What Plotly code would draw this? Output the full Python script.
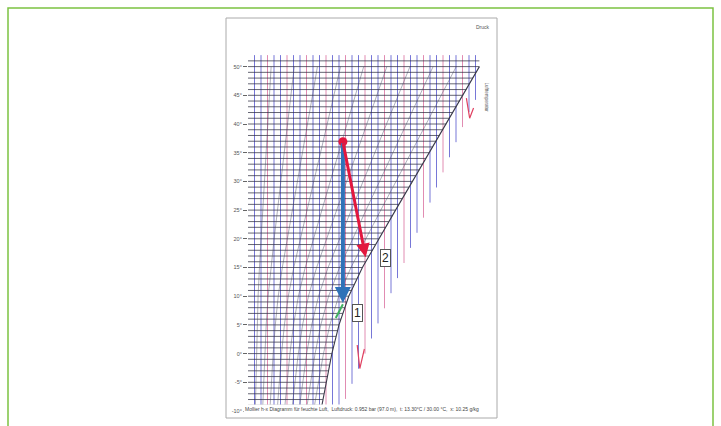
import numpy as np
import plotly.graph_objects as go

# ---- data (x = water content, arbitrary g/kg-like units; T in °C) ----
temp_ticks = [-10, -5, 0, 5, 10, 15, 20, 25, 30, 35, 40, 45, 50]
temp_labels = ["-10°", "-5°", "0°", "5°", "10°", "15°", "20°", "25°", "30°", "35°", "40°", "45°", "50°"]

sat_T = [-10, -5, 0, 5, 10, 15, 20, 25, 30, 35, 40, 45, 50]
sat_x = [11.2, 12.0, 12.9, 14.0, 15.5, 17.6, 20.1, 22.7, 25.3, 27.9, 30.5, 33.1, 35.6]

rh_levels = [0.1, 0.2, 0.3, 0.4, 0.5, 0.6, 0.7, 0.8, 0.9]

vert_x = list(range(1, 36))
iso_T = list(range(-10, 52))

fog_edge_x = [14.2, 34.8]
fog_edge_T = [-10.0, 44.2]

top_tick_x = [1.8, 4.3, 5.7, 7.8, 12.8, 17.7, 19.8, 23.4, 29.4, 34.8]
top_tick_text = ["2", "4", "6", "8", "13", "18", "20", "23", "29", "35"]

hook_a_x = [33.6, 34.1, 34.7]
hook_a_T = [44.5, 41.0, 42.8]
hook_b_x = [16.8, 17.2, 17.9]
hook_b_T = [1.5, -2.6, 0.8]

green_x = [13.5, 14.6]
green_T = [6.2, 8.6]

p0 = (14.6, 36.9)   # start state
p1 = (14.6, 8.8)    # end of blue process (1)
p2 = (18.1, 16.8)   # end of red process (2)
label1 = (16.9, 7.1)
label2 = (21.1, 16.7)

T_TOP = 52.0
T_BOT = -10.0
X_MAX = 36.0

# ---- build line sets ----
def sat_at(T):
    return float(np.interp(T, sat_T, sat_x))

blue_vx, blue_vy, pink_vx, pink_vy = [], [], [], []
for i, xv in enumerate(vert_x):
    if xv <= fog_edge_x[0]:
        tb = T_BOT
    else:
        tb = float(np.interp(xv, fog_edge_x, fog_edge_T))
    if i % 3 == 2:
        pink_vx += [xv, xv, None]
        pink_vy += [T_TOP, tb, None]
    else:
        blue_vx += [xv, xv, None]
        blue_vy += [T_TOP, tb, None]

iso_x, iso_y = [], []
for t in iso_T:
    iso_x += [-0.4, min(sat_at(t), X_MAX), None]
    iso_y += [t, t, None]

rh_x, rh_y = [], []
for phi in rh_levels:
    rh_x += [phi * s for s in sat_x] + [None]
    rh_y += list(sat_T) + [None]

fig = go.Figure()
fig.add_trace(go.Scatter(x=blue_vx, y=blue_vy, mode="lines", cliponaxis=False,
                         line=dict(color="rgba(85,85,205,0.8)", width=1.0), hoverinfo="skip"))
fig.add_trace(go.Scatter(x=pink_vx, y=pink_vy, mode="lines", cliponaxis=False,
                         line=dict(color="rgba(220,120,165,0.85)", width=1.0), hoverinfo="skip"))
fig.add_trace(go.Scatter(x=iso_x, y=iso_y, mode="lines", cliponaxis=False,
                         line=dict(color="rgba(40,40,60,0.8)", width=0.9), hoverinfo="skip"))
fig.add_trace(go.Scatter(x=rh_x, y=rh_y, mode="lines",
                         line=dict(color="rgba(70,70,100,0.55)", width=0.8), hoverinfo="skip"))
fig.add_trace(go.Scatter(x=sat_x, y=sat_T, mode="lines",
                         line=dict(color="#3a3a4a", width=1.1), hoverinfo="skip"))
fig.add_trace(go.Scatter(x=hook_a_x, y=hook_a_T, mode="lines",
                         line=dict(color="#e04060", width=1.2), hoverinfo="skip"))
fig.add_trace(go.Scatter(x=hook_b_x, y=hook_b_T, mode="lines",
                         line=dict(color="#e04060", width=1.2), hoverinfo="skip"))
fig.add_trace(go.Scatter(x=green_x, y=green_T, mode="lines",
                         line=dict(color="#40b060", width=2), hoverinfo="skip"))
fig.add_trace(go.Scatter(x=[p0[0]], y=[p0[1]], mode="markers",
                         marker=dict(color="#e3173e", size=9), hoverinfo="skip"))

# ---- pixel -> paper helpers for decoration (plot area 248..482 x, 55..411 y) ----
L, R, T, B = 248, 482, 55, 411
def px(v):
    return (v - L) / (R - L)
def py(v):
    return (B - v) / (B - T)

y0, y1 = T_BOT, T_BOT + (B - T) / 5.74

annotations = [
    dict(x=p1[0], y=p1[1], ax=p0[0], ay=p0[1], xref="x", yref="y", axref="x", ayref="y",
         showarrow=True, arrowhead=2, arrowsize=0.8, arrowwidth=4, arrowcolor="#2f72b8", text=""),
    dict(x=p2[0], y=p2[1], ax=p0[0], ay=p0[1], xref="x", yref="y", axref="x", ayref="y",
         showarrow=True, arrowhead=2, arrowsize=0.9, arrowwidth=3, arrowcolor="#e3173e", text=""),
    dict(x=label1[0], y=label1[1], text="1", showarrow=False, font=dict(size=12, color="#222"),
         bgcolor="white", bordercolor="#555", borderwidth=1, borderpad=1),
    dict(x=label2[0], y=label2[1], text="2", showarrow=False, font=dict(size=12, color="#222"),
         bgcolor="white", bordercolor="#555", borderwidth=1, borderpad=1),
    dict(x=X_MAX + 0.6, y=47.8, text="100%", showarrow=False, xanchor="left",
         font=dict(size=5, color="#444")),
    dict(xref="paper", yref="paper", x=px(492), y=py(22), text="Druck", showarrow=False,
         font=dict(size=5, color="#555"), xanchor="right"),
    dict(xref="paper", yref="paper", x=px(491), y=py(80), text="Lufttemperatur", showarrow=False,
         textangle=90, font=dict(size=4.5, color="#555")),
    dict(xref="paper", yref="paper", x=px(362), y=py(414),
         text="Mollier h-x Diagramm für feuchte Luft,  Luftdruck: 0.952 bar (97.0 m),  t: 13.30°C / 30.00 °C,  x: 10.25 g/kg",
         showarrow=False, font=dict(size=5, color="#444"), bgcolor="white"),
]
for xv, tt in zip(top_tick_x, top_tick_text):
    annotations.append(dict(x=xv, y=y1 + 0.2, text=tt, showarrow=False, yanchor="bottom",
                            font=dict(size=6, color="#5a5ac8")))

shapes = [
    dict(type="rect", xref="paper", yref="paper", x0=px(8), x1=px(713), y0=py(440), y1=py(8),
         line=dict(color="#7cc242", width=1.5)),
    dict(type="rect", xref="paper", yref="paper", x0=px(226), x1=px(497), y0=py(418), y1=py(18),
         line=dict(color="#aaaaaa", width=1)),
]

fig.update_layout(
    width=721, height=426,
    margin=dict(l=L, r=721 - R, t=T, b=426 - B),
    paper_bgcolor="white", plot_bgcolor="white",
    showlegend=False,
    font=dict(family="Liberation Sans, Arial, sans-serif"),
    xaxis=dict(range=[0, X_MAX], showgrid=False, zeroline=False, showticklabels=False,
               ticks="", showline=False),
    yaxis=dict(range=[y0, y1], showgrid=False, zeroline=False, tickvals=temp_ticks,
               ticktext=temp_labels, ticks="outside", ticklen=4, tickcolor="#666",
               tickfont=dict(size=5.5, color="#555"), showline=False),
    annotations=annotations,
    shapes=shapes,
)

fig.write_html("out.html", config={"displayModeBar": False},
               post_script="document.body.style.margin='0';document.body.style.overflow='hidden';")
